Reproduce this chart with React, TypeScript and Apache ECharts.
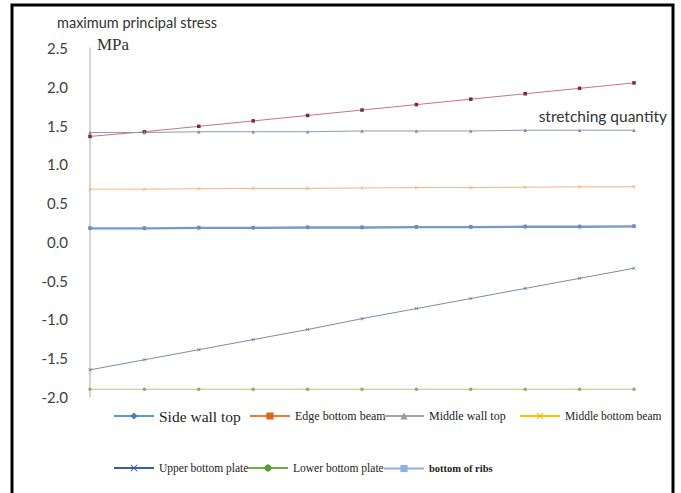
import React, { useEffect, useRef } from "react";
import * as echarts from "echarts";

const categories = ["0", "1", "2", "3", "4", "5", "6", "7", "8", "9", "10"];
const yTicks = [-2.0, -1.5, -1.0, -0.5, 0.0, 0.5, 1.0, 1.5, 2.0, 2.5];

const sideWallTop = [0.17, 0.17, 0.175, 0.175, 0.18, 0.18, 0.185, 0.185, 0.19, 0.19, 0.195];
const edgeBottomBeam = [1.36, 1.42, 1.49, 1.56, 1.63, 1.7, 1.77, 1.84, 1.91, 1.98, 2.05];
const middleWallTop = [1.41, 1.41, 1.42, 1.42, 1.42, 1.43, 1.43, 1.43, 1.44, 1.44, 1.44];
const middleBottomBeam = [0.68, 0.68, 0.685, 0.69, 0.69, 0.695, 0.7, 0.7, 0.705, 0.71, 0.71];
const upperBottomPlate = [-1.65, -1.52, -1.39, -1.26, -1.13, -0.99, -0.86, -0.73, -0.6, -0.47, -0.34];
const lowerBottomPlate = [-1.9, -1.9, -1.9, -1.9, -1.9, -1.9, -1.9, -1.9, -1.9, -1.9, -1.9];
const bottomOfRibs = [0.18, 0.18, 0.185, 0.185, 0.19, 0.19, 0.195, 0.195, 0.2, 0.2, 0.205];

const X_PATH = "path://M0,1L1,0L5,4L9,0L10,1L6,5L10,9L9,10L5,6L1,10L0,9L4,5Z";
const BAR_PATH = "path://M4,0L6,0L6,10L4,10Z";

export default function App() {
  const ref = useRef<HTMLDivElement>(null);
  useEffect(() => {
    if (!ref.current) return;
    const chart = echarts.init(ref.current, null, { renderer: "svg" });
    const serif = "'Liberation Serif', 'Times New Roman', serif";
    const sans = "Lato, 'Open Sans', sans-serif";
    const seriesDefs = [
      { name: "Side wall top", data: sideWallTop, line: "#6F95C6", mark: "#5B82B8", symbol: "diamond", lw: 1.6, legendColor: "#5B9BD5", legendMark: "#4A7EBB", left: 108, top: 403, fs: 15.5, bold: false },
      { name: "Edge bottom beam", data: edgeBottomBeam, line: "#CC7480", mark: "#7A2A3A", symbol: "rect", lw: 1, legendColor: "#ED7D31", legendMark: "#E0651A", left: 244, top: 405, fs: 12, bold: false },
      { name: "Middle wall top", data: middleWallTop, line: "#9096BC", mark: "#8088B0", symbol: "triangle", lw: 1, legendColor: "#A5A5A5", legendMark: "#9A9A9A", left: 378, top: 405, fs: 12, bold: false },
      { name: "Middle bottom beam", data: middleBottomBeam, line: "#F3B587", mark: "#EFA36C", symbol: X_PATH, lw: 1, legendColor: "#FFC000", legendMark: "#F5B800", left: 514, top: 405, fs: 11.5, bold: false },
      { name: "Upper bottom plate", data: upperBottomPlate, line: "#8189AA", mark: "#59648C", symbol: X_PATH, lw: 1, legendColor: "#3A5FA0", legendMark: "#3A5FA0", left: 108, top: 457, fs: 11.5, bold: false },
      { name: "Lower bottom plate", data: lowerBottomPlate, line: "#B0C78A", mark: "#8FAF60", symbol: "circle", lw: 1, legendColor: "#70AD47", legendMark: "#5F9A3A", left: 242, top: 457, fs: 11.5, bold: false },
      { name: "bottom of ribs", data: bottomOfRibs, line: "#7A9CCB", mark: "#6A8CC0", symbol: BAR_PATH, lw: 1.6, legendColor: "#8FB0DE", legendMark: "#8FB0DE", left: 378, top: 458, fs: 10.5, bold: true },
    ];
    const option: any = {
      animation: false,
      backgroundColor: "#ffffff",
      grid: { left: 90, right: 47, top: 48, bottom: 96, containLabel: false },
      xAxis: {
        type: "category",
        data: categories,
        boundaryGap: false,
        axisLine: { show: false },
        axisTick: { show: false },
        axisLabel: { show: false },
        splitLine: { show: false },
      },
      yAxis: {
        type: "value",
        min: -2,
        max: 2.5,
        interval: 0.5,
        axisLine: { show: true, lineStyle: { color: "#C9C9C9", width: 1.5 } },
        axisTick: { show: false },
        splitLine: { show: false },
        axisLabel: {
          margin: 22,
          fontSize: 15,
          color: "#404040",
          fontFamily: sans,
          formatter: (v: number) => (yTicks.includes(v) ? v.toFixed(1) : ""),
        },
      },
      legend: seriesDefs.map((s) => ({
        left: s.left,
        top: s.top,
        orient: "horizontal",
        selectedMode: false,
        itemWidth: 40,
        itemHeight: 9,
        data: [
          {
            name: s.name,
            itemStyle: { color: s.legendMark },
            lineStyle: { color: s.legendColor, width: 2 },
            textStyle: { fontFamily: serif, fontSize: s.fs, fontWeight: s.bold ? "bold" : "normal", color: "#222" },
          },
        ],
      })),
      series: seriesDefs.map((s) => ({
        name: s.name,
        type: "line",
        data: s.data,
        symbol: s.symbol,
        symbolSize: 3.5,
        showSymbol: true,
        lineStyle: { color: s.line, width: s.lw },
        itemStyle: { color: s.mark },
        emphasis: { disabled: true },
      })),
      graphic: [
        {
          type: "rect",
          shape: { x: 12, y: 5, width: 661, height: 510 },
          style: { fill: "none", stroke: "#000", lineWidth: 3 },
          silent: true,
        },
        {
          type: "text",
          x: 57,
          y: 22,
          style: { text: "maximum principal stress", fontFamily: sans, fontSize: 14.5, fill: "#333", textVerticalAlign: "middle" },
        },
        {
          type: "text",
          x: 97,
          y: 44,
          style: { text: "MPa", fontFamily: serif, fontSize: 17, fill: "#333", textVerticalAlign: "middle" },
        },
        {
          type: "text",
          x: 667,
          y: 116,
          style: { text: "stretching quantity", fontFamily: sans, fontSize: 15.5, fill: "#333", textAlign: "right", textVerticalAlign: "middle" },
        },
      ],
    };
    chart.setOption(option);
    return () => chart.dispose();
  }, []);
  return <div ref={ref} style={{ position: "fixed", left: 0, top: 0, width: 681, height: 493 }} />;
}
